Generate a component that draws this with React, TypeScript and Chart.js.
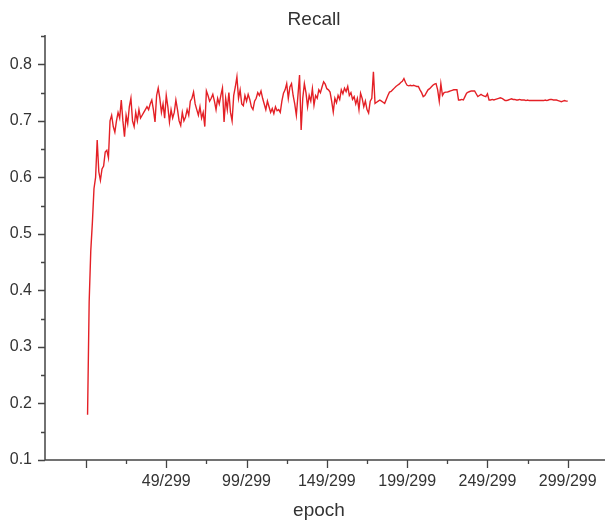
import React, { useEffect, useRef } from 'react';
import { Chart, registerables } from 'chart.js';

Chart.register(...registerables);

// Recall per epoch (index 0..299)
const RECALL: number[] = [
  0.18, 0.38, 0.47, 0.52, 0.58, 0.60, 0.666, 0.61, 0.595, 0.615,
  0.62, 0.645, 0.648, 0.635, 0.70, 0.71, 0.69, 0.68, 0.70, 0.715,
  0.705, 0.737, 0.70, 0.672, 0.71, 0.695, 0.725, 0.74, 0.70, 0.69,
  0.715, 0.70, 0.72, 0.705, 0.71, 0.715, 0.72, 0.725, 0.72, 0.73,
  0.737, 0.72, 0.698, 0.745, 0.758, 0.74, 0.715, 0.73, 0.705, 0.745,
  0.725, 0.698, 0.72, 0.705, 0.715, 0.737, 0.72, 0.70, 0.692, 0.715,
  0.70, 0.707, 0.72, 0.71, 0.735, 0.74, 0.751, 0.73, 0.72, 0.71,
  0.725, 0.705, 0.715, 0.69, 0.753, 0.745, 0.735, 0.74, 0.747, 0.735,
  0.72, 0.74, 0.73, 0.745, 0.758, 0.698, 0.74, 0.72, 0.75, 0.715,
  0.70, 0.745, 0.76, 0.778, 0.74, 0.755, 0.73, 0.727, 0.745, 0.735,
  0.747, 0.738, 0.725, 0.72, 0.735, 0.74, 0.75, 0.745, 0.753, 0.74,
  0.73, 0.72, 0.735, 0.725, 0.715, 0.722, 0.713, 0.725, 0.718, 0.72,
  0.715, 0.735, 0.749, 0.755, 0.766, 0.74, 0.76, 0.766, 0.745, 0.73,
  0.71, 0.745, 0.781, 0.684, 0.74, 0.766, 0.75, 0.725, 0.745, 0.735,
  0.757, 0.728, 0.745, 0.74, 0.755, 0.75, 0.76, 0.769, 0.765, 0.757,
  0.755, 0.751, 0.735, 0.716, 0.74, 0.732, 0.745, 0.738, 0.755, 0.748,
  0.758, 0.752, 0.761, 0.745, 0.75, 0.738, 0.743, 0.73, 0.74, 0.72,
  0.749, 0.74, 0.725, 0.735, 0.72, 0.714, 0.735, 0.74, 0.787, 0.731,
  0.733, 0.735, 0.737, 0.735, 0.733, 0.731, 0.738, 0.745, 0.751, 0.752,
  0.755, 0.758, 0.761, 0.763, 0.765, 0.768, 0.77, 0.775, 0.768, 0.763,
  0.762, 0.763, 0.762, 0.763, 0.762, 0.761, 0.761, 0.755, 0.75, 0.743,
  0.745, 0.75, 0.755, 0.757, 0.76, 0.763, 0.765, 0.766, 0.755, 0.735,
  0.766, 0.745, 0.75, 0.751, 0.751, 0.752, 0.753, 0.754, 0.755, 0.755,
  0.755, 0.737, 0.737, 0.738, 0.737, 0.743, 0.749, 0.751, 0.752, 0.753,
  0.753, 0.753, 0.748, 0.743, 0.745, 0.747, 0.745, 0.744, 0.743, 0.748,
  0.737, 0.737, 0.738, 0.737, 0.738, 0.739, 0.740, 0.741, 0.740, 0.738,
  0.736, 0.736, 0.737, 0.738, 0.739, 0.738, 0.738, 0.737, 0.737, 0.738,
  0.737, 0.737, 0.737, 0.736, 0.737, 0.736, 0.736, 0.736, 0.736, 0.736,
  0.736, 0.736, 0.736, 0.736, 0.736, 0.737, 0.736, 0.737, 0.738, 0.738,
  0.737, 0.737, 0.737, 0.736, 0.735, 0.734, 0.735, 0.736, 0.735, 0.735,
];
const EPOCHS: number[] = RECALL.map((_, i) => i);
const TOTAL_EPOCH_LABEL = 299;

const X_LABELED_TICKS = [49, 99, 149, 199, 249, 299];
const X_MAJOR_TICKS = [-1, 49, 99, 149, 199, 249, 299];
const X_MINOR_TICKS = [24, 74, 124, 174, 224, 274];
const Y_MAJOR_TICKS = [0.1, 0.2, 0.3, 0.4, 0.5, 0.6, 0.7, 0.8];
const Y_MINOR_TICKS = [0.15, 0.25, 0.35, 0.45, 0.55, 0.65, 0.75, 0.85];

const CHART_TITLE = 'Recall';
const X_TITLE = 'epoch';

const FONT = '"Liberation Sans", Arial, sans-serif';
const AXIS_COLOR = '#444444';
const TEXT_COLOR = '#333333';

const axesPlugin = {
  id: 'originAxes',
  afterDraw(chart: any) {
    const { ctx, chartArea, scales } = chart;
    const xs = scales.x;
    const ys = scales.y;
    ctx.save();
    ctx.strokeStyle = AXIS_COLOR;
    ctx.lineWidth = 1.5;
    ctx.beginPath();
    ctx.moveTo(chartArea.left, chartArea.top);
    ctx.lineTo(chartArea.left, chartArea.bottom);
    ctx.lineTo(chart.width, chartArea.bottom);
    ctx.stroke();

    ctx.lineWidth = 1.3;
    ctx.beginPath();
    X_MAJOR_TICKS.forEach((v) => {
      const px = Math.round(xs.getPixelForValue(v)) + 0.5;
      ctx.moveTo(px, chartArea.bottom);
      ctx.lineTo(px, chartArea.bottom + 8);
    });
    X_MINOR_TICKS.forEach((v) => {
      const px = Math.round(xs.getPixelForValue(v)) + 0.5;
      ctx.moveTo(px, chartArea.bottom);
      ctx.lineTo(px, chartArea.bottom + 4);
    });
    Y_MAJOR_TICKS.forEach((v) => {
      const py = Math.round(ys.getPixelForValue(v)) + 0.5;
      ctx.moveTo(chartArea.left, py);
      ctx.lineTo(chartArea.left - 7, py);
    });
    Y_MINOR_TICKS.forEach((v) => {
      const py = Math.round(ys.getPixelForValue(v)) + 0.5;
      ctx.moveTo(chartArea.left, py);
      ctx.lineTo(chartArea.left - 4, py);
    });
    ctx.stroke();

    ctx.fillStyle = TEXT_COLOR;
    ctx.font = `19px ${FONT}`;
    ctx.textAlign = 'center';
    ctx.textBaseline = 'middle';
    ctx.fillText(CHART_TITLE, 314, 20);
    ctx.fillText(X_TITLE, 319, 511);
    ctx.restore();
  },
};

export default function App() {
  const canvasRef = useRef<HTMLCanvasElement | null>(null);

  useEffect(() => {
    if (!canvasRef.current) return;
    const chart = new Chart(canvasRef.current, {
      type: 'line',
      data: {
        datasets: [
          {
            label: CHART_TITLE,
            data: EPOCHS.map((e, i) => ({ x: e, y: RECALL[i] })),
            borderColor: 'rgb(228, 32, 38)',
            borderWidth: 1.4,
            pointRadius: 0,
            tension: 0,
            fill: false,
          },
        ],
      },
      options: {
        responsive: false,
        animation: false,
        layout: { padding: { top: 35, right: 0, left: 0, bottom: 0 } },
        plugins: {
          legend: { display: false },
          title: { display: false },
          tooltip: { enabled: false },
        },
        scales: {
          x: {
            type: 'linear',
            min: -26.5,
            max: 322.2,
            grid: { display: false, drawTicks: false },
            border: { display: false },
            afterBuildTicks: (scale: any) => {
              scale.ticks = X_LABELED_TICKS.map((v) => ({ value: v }));
            },
            afterFit: (scale: any) => {
              scale.height = 61;
              scale.paddingLeft = 0;
              scale.paddingRight = 0;
            },
            ticks: {
              autoSkip: false,
              maxRotation: 0,
              padding: 12,
              color: TEXT_COLOR,
              font: { family: FONT, size: 16 },
              callback: (v: any) => `${v}/${TOTAL_EPOCH_LABEL}`,
            },
          },
          y: {
            type: 'linear',
            min: 0.1,
            max: 0.852,
            grid: { display: false, drawTicks: false },
            border: { display: false },
            afterBuildTicks: (scale: any) => {
              scale.ticks = Y_MAJOR_TICKS.map((v) => ({ value: v }));
            },
            afterFit: (scale: any) => {
              scale.width = 45;
            },
            ticks: {
              autoSkip: false,
              padding: 13,
              color: TEXT_COLOR,
              font: { family: FONT, size: 16 },
              callback: (v: any) => Number(v).toFixed(1),
            },
          },
        },
      },
      plugins: [axesPlugin],
    });
    return () => chart.destroy();
  }, []);

  return (
    <div style={{ position: 'fixed', left: 0, top: 0, width: 605, height: 521, background: '#fff' }}>
      <canvas ref={canvasRef} width={605} height={521} style={{ display: 'block' }} />
    </div>
  );
}
